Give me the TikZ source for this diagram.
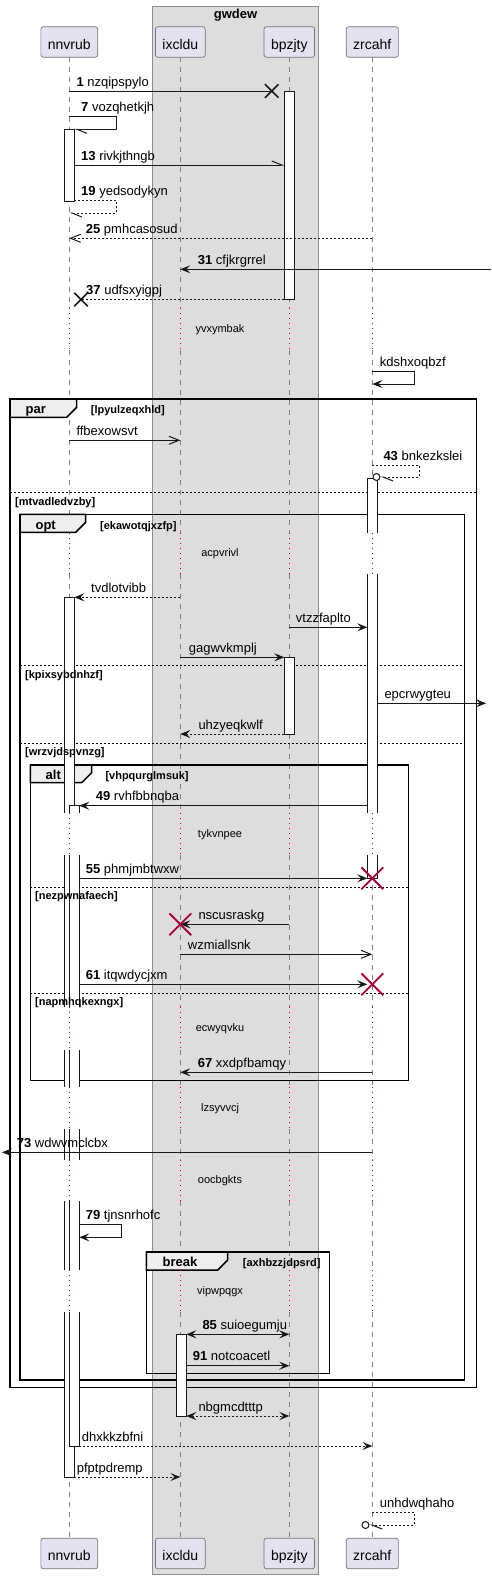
\documentclass[tikz,border=0pt]{standalone}
\usepackage{fontspec}
\setmainfont{Liberation Sans}
\usetikzlibrary{arrows.meta,shapes.misc}

\definecolor{partfill}{HTML}{E2E2F0}
\definecolor{boxfill}{HTML}{DDDDDD}
\definecolor{tabfill}{HTML}{EEEEEE}
\definecolor{linecol}{HTML}{181818}
\definecolor{crimson}{HTML}{A80036}

\tikzset{
  part/.style={draw=black!55, line width=0.7pt, fill=partfill, rounded corners=2.5pt,
    font=\fontsize{14}{16}\selectfont, minimum height=30.6pt, inner xsep=7pt, inner ysep=0pt,
    text height=16pt, text depth=2pt},
  life/.style={draw=black!50, line width=0.7pt, dash pattern=on 5pt off 5pt},
  pause/.style={draw=crimson, line width=1pt, dash pattern=on 1pt off 4pt},
  pausetxt/.style={anchor=base, font=\fontsize{11}{13}\selectfont},
  actbar/.style={draw=linecol, fill=white, line width=1pt},
  msg/.style={draw=linecol, line width=1pt},
  ret/.style={msg, dash pattern=on 2pt off 2pt},
  headfull/.style={arrows={-Stealth[length=10pt, width=8pt, inset=4pt]}},
  headboth/.style={arrows={Stealth[length=10pt, width=8pt, inset=4pt]-Stealth[length=10pt, width=8pt, inset=4pt]}},
  headopen/.style={arrows={-Straight Barb[length=10pt, width=8pt]}},
  headhalf/.style={arrows={-Straight Barb[harpoon, length=10pt, width=8pt]}},
  lbl/.style={anchor=base west, font=\fontsize{13}{15}\selectfont, inner sep=0pt},
  frame/.style={draw=black, line width=1.5pt},
  tab/.style={draw=black, line width=1.5pt, fill=tabfill},
  tabtxt/.style={anchor=base, font=\bfseries\fontsize{13}{15}\selectfont, inner sep=0pt},
  guard/.style={anchor=base west, font=\bfseries\fontsize{11}{13}\selectfont, inner sep=0pt},
  sep/.style={draw=black, line width=1pt, dash pattern=on 2pt off 2pt},
  lostx/.style={cross out, draw=linecol, line width=1.5pt, minimum size=12pt, inner sep=0pt},
  killx/.style={cross out, draw=crimson, line width=1.8pt, minimum size=20pt, inner sep=0pt},
  circ/.style={circle, draw=linecol, fill=white, line width=1pt, minimum size=7pt, inner sep=0pt}
}

\begin{document}
\begin{tikzpicture}[x=1pt, y=-1pt]
  \useasboundingbox (0,0) rectangle (491,1579);

  % box round ixcldu and bpzjty
  \draw[fill=boxfill, draw=black!45, line width=0.8pt] (152.7,6) rectangle (318.3,1574.3);
  \node[anchor=base, font=\bfseries\fontsize{13}{15}\selectfont] (tbox) at (235.5,18.3) {gwdew};

  % participants
  \node[part] (pN) at (69.3,42) {nnvrub};
  \node[part] (pI) at (180.3,42) {ixcldu};
  \node[part] (pB) at (289.3,42) {bpzjty};
  \node[part] (pZ) at (372.3,42) {zrcahf};
  \node[part] (qN) at (69.3,1553.5) {nnvrub};
  \node[part] (qI) at (180.3,1553.5) {ixcldu};
  \node[part] (qB) at (289.3,1553.5) {bpzjty};
  \node[part] (qZ) at (372.3,1553.5) {zrcahf};

  % activation bar edges
  \coordinate (nA) at (74.3,0);
  \coordinate (nB) at (79.3,0);
  \coordinate (iA) at (186.3,0);
  \coordinate (bA) at (284.3,0);
  \coordinate (zA) at (367.3,0);
  \coordinate (zB) at (377.3,0);

  % lifelines
  \foreach \p in {pN,pI,pB,pZ}
    \foreach \a/\b in {57.3/308, 350/532.7, 574/813.3, 855/1006.7, 1050/1087, 1129/1160, 1201/1270, 1312/1537.7}
      \draw[life] (\p |- 0,\a) -- (\p |- 0,\b);

  % groups
  \draw[frame] (10,399) rectangle (476.7,1387.3);
  \draw[tab] (10,399) -- (76.7,399) -- (76.7,407.3) -- (66.7,417.3) -- (10,417.3) -- cycle;
  \node[tabtxt] (tpar) at (35.7,413.3) {par};
  \draw[sep] (10,492.3) -- (476.7,492.3);

  \draw[frame] (20,514.3) rectangle (464.3,1380);
  \draw[tab] (20,514.3) -- (85.7,514.3) -- (85.7,522.3) -- (75.7,532.3) -- (20,532.3) -- cycle;
  \node[tabtxt] (topt) at (45.7,529) {opt};
  \draw[sep] (20,665.7) -- (464.3,665.7);
  \draw[sep] (20,743.3) -- (464.3,743.3);

  \draw[frame] (30.3,765) rectangle (408.7,1080.7);
  \draw[tab] (30.3,765) -- (91.7,765) -- (91.7,772.7) -- (81.7,782.7) -- (30.3,782.7) -- cycle;
  \node[tabtxt] (talt) at (53.3,779.7) {alt};
  \draw[sep] (30.3,887.3) -- (408.7,887.3);
  \draw[sep] (30.3,993.3) -- (408.7,993.3);

  \draw[frame] (146.3,1252) rectangle (329.7,1373.3);
  \draw[tab] (146.3,1252) -- (227.7,1252) -- (227.7,1260) -- (217.7,1270) -- (146.3,1270) -- cycle;
  \node[tabtxt] (tbrk) at (180,1266.7) {break};

  % activations
  \draw[actbar] (284.3,91) rectangle (294.3,299);
  \draw[actbar] (64.3,129.3) rectangle (74.3,201);
  \draw[actbar] (367.3,478) rectangle (377.3,878.3);
  \draw[actbar] (64.3,597.3) rectangle (74.3,1477);
  \draw[actbar] (69.3,805.7) rectangle (79.3,1446);
  \draw[actbar] (284.3,657.3) rectangle (294.3,734);
  \draw[actbar] (176.3,1334.3) rectangle (186.3,1416);
  \foreach \a/\b in {813.3/855, 1006.7/1050, 1087/1129, 1160/1201, 1270/1312}
    \fill[white] (63,\a) rectangle (81,\b);
  \foreach \a/\b in {532.7/574, 813.3/855}
    \fill[white] (366,\a) rectangle (379,\b);

  % delays
  \foreach \p in {pN,pI,pB,pZ}
    \foreach \a/\b in {308/350, 532.7/574, 813.3/855, 1006.7/1050, 1087/1129, 1160/1201, 1270/1312}
      \draw[pause] (\p |- 0,\a) -- (\p |- 0,\b);
  \node[pausetxt] (d1) at (220,332) {yvxymbak};
  \node[pausetxt] (d2) at (220,556.5) {acpvrivl};
  \node[pausetxt] (d3) at (220,837) {tykvnpee};
  \node[pausetxt] (d4) at (220,1031.5) {ecwyqvku};
  \node[pausetxt] (d5) at (220,1111) {lzsyvvcj};
  \node[pausetxt] (d6) at (220,1183.5) {oocbgkts};
  \node[pausetxt] (d7) at (220,1294) {vipwpqgx};

  % guards
  \node[guard] (gpar) at (90.7,413.3) {[lpyulzeqxhld]};
  \node[guard] (gpar2) at (15,505) {[mtvadledvzby]};
  \node[guard] (gopt) at (100,529) {[ekawotqjxzfp]};
  \node[guard] (gopt2) at (25,678.3) {[kpixsybdnhzf]};
  \node[guard] (gopt3) at (25,755.8) {[wrzvjdspvnzg]};
  \node[guard] (galt) at (105.3,779.7) {[vhpqurglmsuk]};
  \node[guard] (galt2) at (35,899.8) {[nezpwnafaech]};
  \node[guard] (galt3) at (35,1005.8) {[napmhqkexngx]};
  \node[guard] (gbrk) at (242.7,1266.7) {[axhbzzjdpsrd]};

  % messages
  \node[lostx] (x1) at (271.7,91) {};
  \draw[msg] (pN |- x1) -- (x1.center);
  \node[lbl] (m1) at (76.3,86) {\textbf{1} nzqipspylo};

  \draw[msg, headhalf] (pN |- 0,116.7) -| (116.3,129.3) -- (nA |- 0,129.3);
  \node[lbl] (m7) at (81,111.7) {\textbf{7} vozqhetkjh};

  \draw[msg, headhalf] (nA |- 0,165) -- (bA |- 0,165);
  \node[lbl] (m13) at (81,160) {\textbf{13} rivkjthngb};

  \draw[ret, headhalf] (nA |- 0,200.3) -| (116.3,213) -- (pN |- 0,213);
  \node[lbl] (m19) at (81,195.3) {\textbf{19} yedsodykyn};

  \draw[ret, headopen] (pZ |- 0,238.3) -- (pN |- 0,238.3);
  \node[lbl] (m25) at (85.7,233.5) {\textbf{25} pmhcasosud};

  \coordinate (in31) at (491,269.3);
  \draw[msg, headfull] (in31) -- (pI |- in31);
  \node[lbl] (m31) at (197.7,264.3) {\textbf{31} cfjkrgrrel};

  \node[lostx] (x37) at (81,299.5) {};
  \draw[ret] (bA |- x37) -- (x37.center);
  \node[lbl] (m37) at (86,294.3) {\textbf{37} udfsxyigpj};

  \draw[msg, headfull] (pZ |- 0,371.3) -| (414.3,384) -- (pZ |- 0,384);
  \node[lbl] (mkd) at (379.7,366.3) {kdshxoqbzf};

  \draw[msg, headopen] (pN |- 0,440.3) -- (pI |- 0,440.3);
  \node[lbl] (mff) at (76.3,435.3) {ffbexowsvt};

  \node[circ] (o43) at (376.5,477) {};
  \draw[ret, headhalf] (pZ |- 0,465.3) -| (419.3,477) -- (o43.east);
  \node[lbl] (m43) at (383.3,460.3) {\textbf{43} bnkezkslei};

  \draw[ret, headfull] (pI |- 0,597.3) -- (nA |- 0,597.3);
  \node[lbl] (mtv) at (91,592.3) {tvdlotvibb};

  \draw[msg, headfull] (pB |- 0,627.3) -- (zA |- 0,627.3);
  \node[lbl] (mvt) at (295.7,622.3) {vtzzfaplto};

  \draw[msg, headfull] (pI |- 0,657.3) -- (bA |- 0,657.3);
  \node[lbl] (mga) at (188.7,652.3) {gagwvkmplj};

  \coordinate (out1) at (486,703.3);
  \draw[msg, headfull] (zB |- out1) -- (out1);
  \node[lbl] (mep) at (384.3,698.3) {epcrwygteu};

  \draw[ret, headfull] (bA |- 0,734) -- (pI |- 0,734);
  \node[lbl] (muh) at (198.3,729) {uhzyeqkwlf};

  \draw[msg, headfull] (zA |- 0,805.7) -- (nB |- 0,805.7);
  \node[lbl] (m49) at (95.7,800.7) {\textbf{49} rvhfbbnqba};

  \draw[msg, headfull] (nB |- 0,878.3) -- (zA |- 0,878.3);
  \node[killx] (k55) at (pZ |- 0,878.3) {};
  \node[lbl] (m55) at (85.7,873.3) {\textbf{55} phmjmbtwxw};

  \draw[msg, headfull] (pB |- 0,924.3) -- (pI |- 0,924.3);
  \node[killx] (kns) at (pI |- 0,924.3) {};
  \node[lbl] (mns) at (198.3,919.3) {nscusraskg};

  \draw[msg, headopen] (pI |- 0,954.3) -- (pZ |- 0,954.3);
  \node[lbl] (mwz) at (187.7,949.3) {wzmiallsnk};

  \draw[msg, headfull] (nB |- 0,984.3) -- (zA |- 0,984.3);
  \node[killx] (k61) at (pZ |- 0,984.3) {};
  \node[lbl] (m61) at (85.7,979.3) {\textbf{61} itqwdycjxm};

  \draw[msg, headfull] (pZ |- 0,1072.3) -- (pI |- 0,1072.3);
  \node[lbl] (m67) at (197.7,1067.3) {\textbf{67} xxdpfbamqy};

  \coordinate (out73) at (2,1152.3);
  \draw[msg, headfull] (pZ |- out73) -- (out73);
  \node[lbl] (m73) at (16.7,1147.3) {\textbf{73} wdwvmclcbx};

  \draw[msg, headfull] (nB |- 0,1224.7) -| (121.3,1237.3) -- (nB |- 0,1237.3);
  \node[lbl] (m79) at (85.7,1219.7) {\textbf{79} tjnsnrhofc};

  \draw[msg, headboth] (iA |- 0,1334.3) -- (pB |- 0,1334.3);
  \node[lbl] (m85) at (202.3,1329.3) {\textbf{85} suioegumju};

  \draw[msg, headfull] (iA |- 0,1365.7) -- (pB |- 0,1365.7);
  \node[lbl] (m91) at (192.7,1360.7) {\textbf{91} notcoacetl};

  \draw[ret, headboth] (iA |- 0,1416) -- (pB |- 0,1416);
  \node[lbl] (mnb) at (198.3,1411) {nbgmcdtttp};

  \draw[ret, headfull] (nB |- 0,1446) -- (pZ |- 0,1446);
  \node[lbl] (mdh) at (81.7,1441) {dhxkkzbfni};

  \draw[ret, headfull] (nA |- 0,1477) -- (pI |- 0,1477);
  \node[lbl] (mpf) at (76.7,1472) {pfptpdremp};

  \node[circ] (o97) at (365.5,1525) {};
  \draw[ret, headhalf] (pZ |- 0,1512.3) -| (414.3,1525) -- (o97.east);
  \node[lbl] (mun) at (379.7,1507.3) {unhdwqhaho};
\end{tikzpicture}
\end{document}
